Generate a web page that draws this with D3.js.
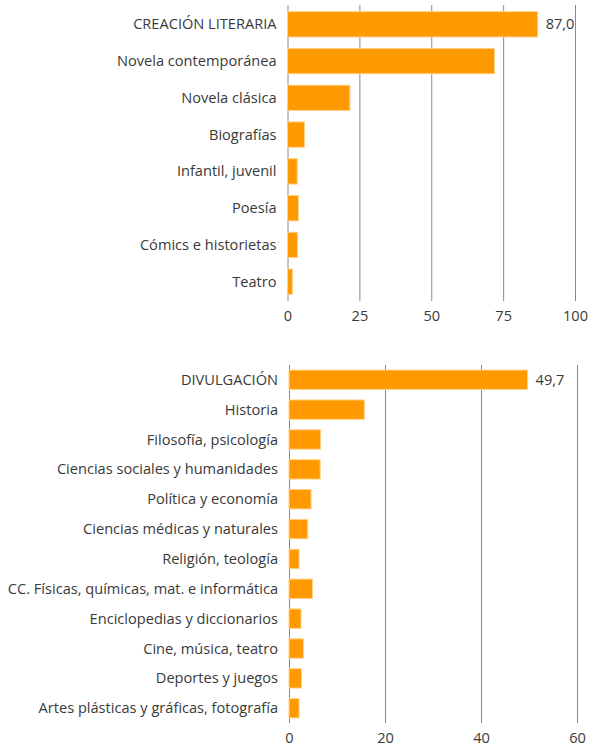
<!DOCTYPE html>
<html>
<head>
<meta charset="utf-8">
<script src="https://cdn.jsdelivr.net/npm/d3@7"></script>
<style>
  body { margin: 0; background: #fff; }
  svg text { font-family: "Open Sans", sans-serif; fill: #3a3a3a; }
</style>
</head>
<body>
<svg id="chart" width="590" height="746"></svg>
<script>
// datos: creación literaria
var litCategories = ["CREACIÓN LITERARIA", "Novela contemporánea", "Novela clásica", "Biografías",
  "Infantil, juvenil", "Poesía", "Cómics e historietas", "Teatro"];
var litValues = [87.0, 72.0, 21.7, 5.9, 3.4, 3.8, 3.5, 1.7];
var litTicks = [0, 25, 50, 75, 100];

// datos: divulgación
var divCategories = ["DIVULGACIÓN", "Historia", "Filosofía, psicología", "Ciencias sociales y humanidades",
  "Política y economía", "Ciencias médicas y naturales", "Religión, teología",
  "CC. Físicas, químicas, mat. e informática", "Enciclopedias y diccionarios",
  "Cine, música, teatro", "Deportes y juegos", "Artes plásticas y gráficas, fotografía"];
var divValues = [49.7, 15.7, 6.6, 6.5, 4.6, 3.9, 2.1, 4.9, 2.5, 3.0, 2.6, 2.1];
var divTicks = [0, 20, 40, 60];

var svg = d3.select("#chart");

//dibuja un panel de barras horizontales
function drawPanel(conf) {
  var g = svg.append("g");
  var x = d3.scaleLinear().domain([0, conf.max]).range([conf.x0, conf.x1]);
  var y = d3.scaleBand().domain(conf.categories).range([conf.top, conf.bottom])
    .paddingInner(conf.padIn).paddingOuter(conf.padOut);

  // rejilla + etiquetas del eje
  var axis = g.append("g")
    .attr("transform", "translate(0," + conf.bottom + ")")
    .call(d3.axisBottom(x).tickValues(conf.ticks)
      .tickSize(-(conf.bottom - conf.top)).tickPadding(10)
      .tickFormat(d3.format("d")));
  axis.select(".domain").remove();
  axis.selectAll(".tick line").attr("stroke", "#8a8a8a").attr("stroke-width", 1);
  axis.selectAll(".tick text").style("font-size", "14.6px").attr("fill", "#3a3a3a");

  g.selectAll("rect.bar")
    .data(conf.values).enter()
    .append("rect").attr("class", "bar")
    .attr("x", x(0))
    .attr("y", function(d, i) { return y(conf.categories[i]); })
    .attr("width", function(d) { return x(d) - x(0); })
    .attr("height", y.bandwidth())
    .attr("fill", "#ff9900")
    .attr("stroke", "#ffd28a")
    .attr("stroke-width", 1);

  g.selectAll("text.cat")
    .data(conf.categories).enter()
    .append("text").attr("class", "cat")
    .attr("x", conf.x0 - 11)
    .attr("y", function(d) { return y(d) + y.bandwidth() / 2; })
    .attr("dy", "0.35em")
    .attr("text-anchor", "end")
    .style("font-size", "14.6px")
    .text(function(d) { return d; });

  // valor del total
  g.append("text")
    .attr("x", x(conf.values[0]) + 8)
    .attr("y", y(conf.categories[0]) + y.bandwidth() / 2)
    .attr("dy", "0.35em")
    .style("font-size", "14.6px")
    .text(d3.format(".1f")(conf.values[0]).replace(".", ","));
}

drawPanel({
  categories: litCategories, values: litValues, ticks: litTicks, max: 100,
  x0: 287.5, x1: 575, top: 5, bottom: 301, padIn: 0.31, padOut: 0.18
});
drawPanel({
  categories: divCategories, values: divValues, ticks: divTicks, max: 60,
  x0: 289, x1: 577, top: 365, bottom: 723, padIn: 0.35, padOut: 0.17
});
</script>
</body>
</html>
